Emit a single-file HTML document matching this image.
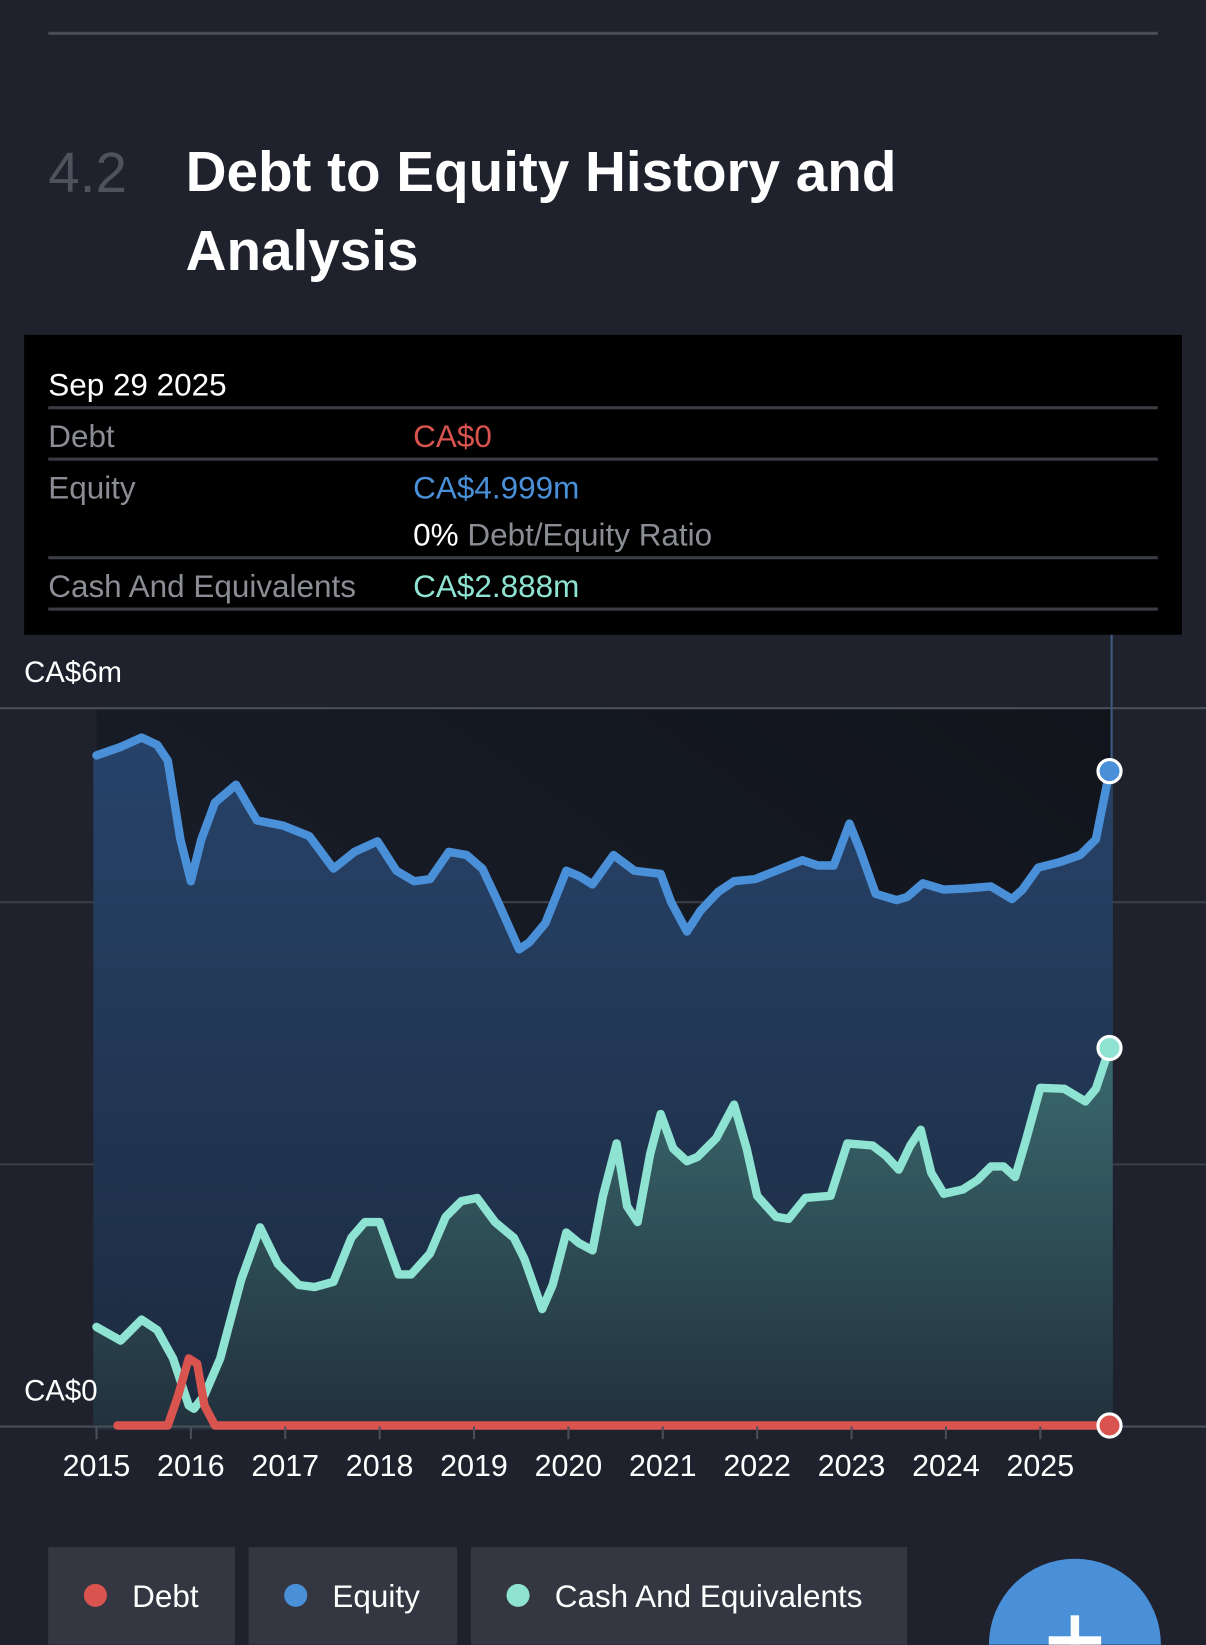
<!DOCTYPE html>
<html><head><meta charset="utf-8"><style>
html,body{margin:0;padding:0;background:#1f222d;width:1206px;height:1645px;overflow:hidden;}
svg{display:block;}
text{font-family:"Liberation Sans",sans-serif;}
</style></head><body>
<svg width="1206" height="1645" viewBox="0 0 1150 1568" xmlns="http://www.w3.org/2000/svg">
<defs>
<linearGradient id="bgc" x1="0" y1="1" x2="1" y2="0"><stop offset="0" stop-color="#1c2230"/><stop offset="1" stop-color="#11141b"/></linearGradient>
<linearGradient id="eq" x1="0" y1="0" x2="0" y2="1"><stop offset="0" stop-color="#27436a"/><stop offset="1" stop-color="#1c2a3e"/></linearGradient>
<linearGradient id="ca" x1="0" y1="0" x2="0" y2="1"><stop offset="0" stop-color="#3a6a6e"/><stop offset="1" stop-color="#22313d"/></linearGradient>
</defs>
<rect width="1150" height="1568" fill="#1f222d"/>
<rect x="46" y="30" width="1058" height="3" fill="#474b55"/>
<text x="46" y="183" font-size="54" fill="#4d525d">4.2</text>
<text x="177" y="182" font-size="54" font-weight="bold" fill="#fff">Debt to Equity History and</text>
<text x="177" y="257" font-size="54" font-weight="bold" fill="#fff">Analysis</text>
<rect x="23" y="319" width="1104" height="286" fill="#000"/>
<text x="46" y="377" font-size="30" fill="#fff">Sep 29 2025</text>
<rect x="46" y="387" width="1058" height="3" fill="#3a3d44"/>
<text x="46" y="426" font-size="30" fill="#8a8d93">Debt</text>
<text x="394" y="426" font-size="30" fill="#d9534f">CA$0</text>
<rect x="46" y="436" width="1058" height="3" fill="#3a3d44"/>
<text x="46" y="475" font-size="30" fill="#8a8d93">Equity</text>
<text x="394" y="475" font-size="30" fill="#4a90d9">CA$4.999m</text>
<text x="394" y="520" font-size="30" fill="#fff">0% <tspan fill="#8a8d93">Debt/Equity Ratio</tspan></text>
<rect x="46" y="530" width="1058" height="3" fill="#3a3d44"/>
<text x="46" y="569" font-size="30" fill="#8a8d93">Cash And Equivalents</text>
<text x="394" y="569" font-size="30" fill="#8ee3d2">CA$2.888m</text>
<rect x="46" y="579" width="1058" height="3" fill="#3a3d44"/>
<text x="23" y="650" font-size="28" fill="#fff">CA$6m</text>
<rect x="92" y="675" width="968" height="685" fill="url(#bgc)"/>
<line x1="0" y1="675" x2="1150" y2="675" stroke="#4a4e58" stroke-width="2"/>
<line x1="0" y1="860" x2="1150" y2="860" stroke="#3a3e48" stroke-width="2"/>
<line x1="0" y1="1110" x2="1150" y2="1110" stroke="#3a3e48" stroke-width="2"/>
<line x1="1060" y1="605" x2="1060" y2="1360" stroke="#3d5a80" stroke-width="2"/>
<polygon fill="url(#eq)" stroke="url(#eq)" stroke-width="6" stroke-linejoin="round" points="92,1360 92,720 115,712 135,703 150,710 160,725 172,800 182,840 192,800 205,765 225,748 235,765 245,782 270,787 295,797 318,828 338,812 360,802 378,830 395,840 410,838 428,812 445,815 460,828 475,860 495,905 505,898 520,880 540,830 552,835 565,843 585,815 605,830 630,833 640,860 655,888 668,868 685,850 700,840 720,838 745,828 765,820 780,825 795,825 810,785 820,810 835,852 855,858 865,855 880,842 900,848 920,847 945,845 965,857 975,848 990,827 1010,822 1030,815 1045,800 1058,735 1058,1360"/>
<polygon fill="url(#ca)" stroke="url(#ca)" stroke-width="6" stroke-linejoin="round" points="92,1360 92,1265 115,1278 135,1258 150,1268 165,1295 180,1340 185,1343 195,1330 210,1295 230,1220 248,1170 265,1205 285,1225 300,1227 318,1222 335,1180 348,1165 362,1165 380,1215 392,1215 410,1195 425,1160 440,1145 455,1142 472,1165 490,1180 500,1200 517,1248 527,1225 540,1175 552,1185 565,1192 575,1140 588,1090 598,1150 608,1165 620,1100 630,1062 642,1095 655,1107 665,1103 683,1085 700,1053 712,1095 722,1140 740,1160 752,1162 768,1142 792,1140 808,1090 832,1092 845,1102 857,1115 868,1092 878,1077 888,1118 900,1138 918,1134 932,1125 945,1112 957,1112 968,1122 978,1088 992,1037 1015,1038 1035,1050 1045,1038 1058,999 1058,1360"/>
<polyline fill="none" stroke="#4a90d9" stroke-width="8" stroke-linejoin="round" stroke-linecap="round" points="92,720 115,712 135,703 150,710 160,725 172,800 182,840 192,800 205,765 225,748 235,765 245,782 270,787 295,797 318,828 338,812 360,802 378,830 395,840 410,838 428,812 445,815 460,828 475,860 495,905 505,898 520,880 540,830 552,835 565,843 585,815 605,830 630,833 640,860 655,888 668,868 685,850 700,840 720,838 745,828 765,820 780,825 795,825 810,785 820,810 835,852 855,858 865,855 880,842 900,848 920,847 945,845 965,857 975,848 990,827 1010,822 1030,815 1045,800 1058,735"/>
<polyline fill="none" stroke="#8ee3d2" stroke-width="8" stroke-linejoin="round" stroke-linecap="round" points="92,1265 115,1278 135,1258 150,1268 165,1295 180,1340 185,1343 195,1330 210,1295 230,1220 248,1170 265,1205 285,1225 300,1227 318,1222 335,1180 348,1165 362,1165 380,1215 392,1215 410,1195 425,1160 440,1145 455,1142 472,1165 490,1180 500,1200 517,1248 527,1225 540,1175 552,1185 565,1192 575,1140 588,1090 598,1150 608,1165 620,1100 630,1062 642,1095 655,1107 665,1103 683,1085 700,1053 712,1095 722,1140 740,1160 752,1162 768,1142 792,1140 808,1090 832,1092 845,1102 857,1115 868,1092 878,1077 888,1118 900,1138 918,1134 932,1125 945,1112 957,1112 968,1122 978,1088 992,1037 1015,1038 1035,1050 1045,1038 1058,999"/>
<line x1="0" y1="1360" x2="1150" y2="1360" stroke="#4a4e58" stroke-width="2"/>
<text x="23" y="1335" font-size="28" fill="#fff">CA$0</text>
<polyline fill="none" stroke="#d9534f" stroke-width="8" stroke-linejoin="round" stroke-linecap="round" points="112,1359 160,1359 170,1330 180,1295 188,1300 195,1340 205,1359 1058,1359"/>
<g stroke="#4a4e58" stroke-width="2">
<line x1="92" y1="1360" x2="92" y2="1372"/><line x1="182" y1="1360" x2="182" y2="1372"/><line x1="272" y1="1360" x2="272" y2="1372"/><line x1="362" y1="1360" x2="362" y2="1372"/><line x1="452" y1="1360" x2="452" y2="1372"/><line x1="542" y1="1360" x2="542" y2="1372"/><line x1="632" y1="1360" x2="632" y2="1372"/><line x1="722" y1="1360" x2="722" y2="1372"/><line x1="812" y1="1360" x2="812" y2="1372"/><line x1="902" y1="1360" x2="902" y2="1372"/><line x1="992" y1="1360" x2="992" y2="1372"/>
</g>
<g font-size="29" fill="#fff" text-anchor="middle">
<text x="92" y="1407">2015</text><text x="182" y="1407">2016</text><text x="272" y="1407">2017</text><text x="362" y="1407">2018</text><text x="452" y="1407">2019</text><text x="542" y="1407">2020</text><text x="632" y="1407">2021</text><text x="722" y="1407">2022</text><text x="812" y="1407">2023</text><text x="902" y="1407">2024</text><text x="992" y="1407">2025</text>
</g>
<circle cx="1058" cy="735" r="11" fill="#4a90d9" stroke="#fff" stroke-width="3"/>
<circle cx="1058" cy="999" r="11" fill="#8ee3d2" stroke="#fff" stroke-width="3"/>
<circle cx="1058" cy="1359" r="11" fill="#d9534f" stroke="#fff" stroke-width="3"/>
<rect x="46" y="1475" width="178" height="93" fill="#343741"/>
<rect x="237" y="1475" width="199" height="93" fill="#343741"/>
<rect x="449" y="1475" width="416" height="93" fill="#343741"/>
<circle cx="91" cy="1521" r="11" fill="#d9534f"/>
<circle cx="282" cy="1521" r="11" fill="#4a90d9"/>
<circle cx="494" cy="1521" r="11" fill="#8ee3d2"/>
<g font-size="30" fill="#fff"><text x="126" y="1532">Debt</text><text x="317" y="1532">Equity</text><text x="529" y="1532">Cash And Equivalents</text></g>
<path d="M943,1568 A82,82 0 0 1 1107,1568 Z" fill="#4a90d9"/>
<rect x="1021" y="1540" width="8" height="28" fill="#fff"/>
<rect x="1000" y="1560" width="50" height="8" fill="#fff"/>
</svg>
</body></html>
